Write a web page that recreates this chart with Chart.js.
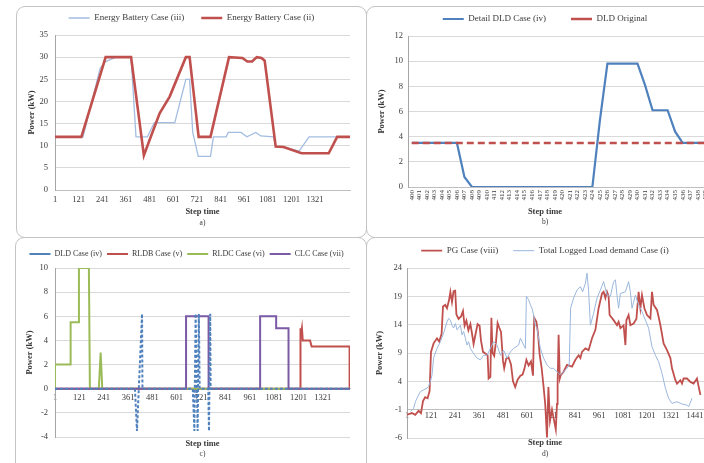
<!DOCTYPE html>
<html lang="en">
<head>
<meta charset="UTF-8">
<title>Power profiles per case</title>
<script src="https://cdn.jsdelivr.net/npm/chart.js"></script>
<style>
    html, body {
        margin: 0;
        padding: 0;
        width: 704px;
        height: 463px;
        overflow: hidden;
        background: #fff;
    }
    .frame {
        position: absolute;
        box-sizing: border-box;
        border: 1px solid #c4c4c4;
        border-radius: 9px;
    }
    canvas {
        position: absolute;
    }
</style>
</head>
<body>
<div class="frame" style="left:16px;top:6px;width:351px;height:232px"></div>
<div class="frame" style="left:366px;top:6px;width:360px;height:232px"></div>
<div class="frame" style="left:15px;top:237px;width:352px;height:240px"></div>
<div class="frame" style="left:366px;top:237px;width:360px;height:240px"></div>

<canvas id="chartA" width="351" height="231" style="left:16px;top:6px"></canvas>
<canvas id="chartB" width="360" height="231" style="left:367px;top:6px"></canvas>
<canvas id="chartC" width="352" height="226" style="left:15px;top:237px"></canvas>
<canvas id="chartD" width="360" height="226" style="left:367px;top:237px"></canvas>

<script>
// a) battery energy
const aXTicks = [1, 121, 241, 361, 481, 601, 721, 841, 961, 1081, 1201, 1321];
const aYTicks = [0, 5, 10, 15, 20, 25, 30, 35];
const aBlueStep  = [1, 143, 230, 258, 310, 387, 412, 470, 505, 609, 665, 684, 700, 728, 790, 805, 870, 880, 945, 975, 1020, 1045, 1110, 1121, 1161, 1240, 1290, 1410, 1433, 1498];
const aBluePower = [12, 12, 27.5, 29, 30, 30, 12, 12, 15.2, 15.2, 25, 25, 13, 7.6, 7.6, 12, 12, 13, 13, 12, 13, 12.2, 12, 9.8, 9.7, 8.8, 12, 12, 12, 12];
const aRedStep  = [1, 135, 258, 387, 452, 481, 532, 583, 665, 684, 730, 790, 884, 952, 977, 1001, 1025, 1049, 1065, 1121, 1161, 1252, 1390, 1433, 1498];
const aRedPower = [12, 12, 30, 30, 7.8, 11.3, 17.3, 21.1, 30, 30, 12, 12, 30, 29.8, 29, 29, 30, 29.8, 29.2, 9.8, 9.7, 8.3, 8.3, 12, 12];

// b) detail of the deferrable load
const bLabels = ['400', '401', '402', '403', '404', '405', '406', '407', '408', '409',
                 '410', '411', '412', '413', '414', '415', '416', '417', '418', '419',
                 '420', '421', '422', '423', '424', '425', '426', '427', '428', '429',
                 '430', '431', '432', '433', '434', '435', '436', '437', '438', '439'];
const bYTicks = [0, 2, 4, 6, 8, 10, 12];
const bDetail = [3.5, 3.5, 3.5, 3.5, 3.5, 3.5, 3.5, 0.8, 0, 0,
                 0, 0, 0, 0, 0, 0, 0, 0, 0, 0,
                 0, 0, 0, 0, 0, 5.3, 9.8, 9.8, 9.8, 9.8,
                 9.8, 8.1, 6.1, 6.1, 6.1, 4.4, 3.5, 3.5, 3.5, 3.5];
const bOriginal = [3.5, 3.5, 3.5, 3.5, 3.5, 3.5, 3.5, 3.5, 3.5, 3.5,
                   3.5, 3.5, 3.5, 3.5, 3.5, 3.5, 3.5, 3.5, 3.5, 3.5,
                   3.5, 3.5, 3.5, 3.5, 3.5, 3.5, 3.5, 3.5, 3.5, 3.5,
                   3.5, 3.5, 3.5, 3.5, 3.5, 3.5, 3.5, 3.5, 3.5, 3.5];

// c) load cases
const cXTicks = [1, 121, 241, 361, 481, 601, 721, 841, 961, 1081, 1201, 1321];
const cYTicks = [-4, -2, 0, 2, 4, 6, 8, 10];
const cDldStep  = [1, 395, 405, 430, 432, 680, 688, 694, 704, 710, 714, 756, 760, 766, 768, 1455];
const cDldPower = [0, 0, -3.5, 6.2, 0, 0, -3.5, 6.2, -3.5, 6.2, 0, 0, -3.5, 6.2, 0, 0];
const cRldbStep  = [1, 1209, 1209, 1213, 1218, 1222, 1258, 1266, 1453, 1453];
const cRldbPower = [0, 0, 5, 4.2, 5, 4, 4, 3.5, 3.5, 0];
const cRldcStep  = [1, 1, 78, 78, 119, 119, 168, 173, 217, 226, 234, 1455];
const cRldcPower = [0, 2, 2, 5.5, 5.5, 10, 10, 0, 0, 3, 0, 0];
const cClcStep  = [1, 647, 647, 758, 758, 1012, 1012, 1091, 1091, 1152, 1152, 1455];
const cClcPower = [0, 0, 6, 6, 0, 0, 6, 6, 5, 5, 0, 0];

// d) grid power vs logged load
const dXTicks = [1, 121, 241, 361, 481, 601, 721, 841, 961, 1081, 1201, 1321, 1441];
const dYTicks = [-6, -1, 4, 9, 14, 19, 24];
const dPgStep = [1, 26, 42, 59, 71, 81, 92, 104, 114, 121,
                 134, 151, 162, 174, 181, 192, 201, 211, 218, 226,
                 234, 242, 248, 259, 272, 281, 289, 298, 308, 318,
                 328, 334, 344, 354, 364, 371, 381, 398, 404, 409,
                 418, 423, 429, 437, 446, 454, 462, 471, 481, 487,
                 497, 509, 521, 531, 542, 554, 568, 579, 588, 598,
                 609, 621, 631, 637, 648, 656, 664, 674, 684, 692,
                 701, 708, 716, 726, 734, 745, 751, 754, 759, 765,
                 770, 784, 801, 826, 843, 859, 868, 876, 893, 909,
                 926, 943, 959, 976, 984, 993, 1001, 1009, 1014, 1034,
                 1051, 1059, 1068, 1084, 1093, 1098, 1109, 1118, 1134, 1148,
                 1159, 1168, 1176, 1188, 1201, 1218, 1226, 1234, 1251, 1259,
                 1268, 1284, 1301, 1318, 1326, 1343, 1351, 1368, 1376, 1384,
                 1401, 1418, 1434, 1451, 1459, 1468];
const dPgPower = [-1.9, -1.6, -1.9, -1.2, -1.6, 0.5, 1.2, 1.0, 2.3, 9.2,
                  10.7, 11.6, 11.0, 12.4, 17.2, 17.5, 16.9, 18.3, 19.8, 18,
                  19.9, 20, 15.8, 15.0, 15.5, 16.4, 13.8, 14.7, 13.0, 14.1,
                  12.0, 10.6, 12.4, 14.1, 13.8, 11.2, 9.2, 8.8, 8.6, 4.5,
                  4.8, 15.2, 9, 8.5, 11, 14.3, 13.5, 12.7, 7.6, 6.3,
                  8.0, 8.2, 7.0, 4.0, 3.0, 4.3, 5.0, 5.2, 6.2, 7.8,
                  6.8, 7.5, 5.0, 15.2, 14.5, 12.5, 8.8, 6.4, 3.0, 0,
                  -5.9, 3.0, -3.0, -1.0, -2.5, -4.5, 0, 3.4, 12.2, 4.5,
                  5.1, 5.7, 6.9, 6.6, 7.8, 8.6, 8.1, 9.2, 9.8, 9.5,
                  11.6, 13.1, 16.9, 19.5, 19.8, 18.7, 19.8, 19, 15.7, 14.8,
                  13.9, 14.5, 13.4, 13.9, 10.4, 14.8, 15.7, 13.9, 14.2, 15.0,
                  19.8, 16.9, 19.2, 16.9, 15.7, 15.1, 19.8, 17.5, 16.6, 15.4,
                  13.9, 10.7, 9.5, 8.1, 6.3, 4.2, 3.6, 4.2, 3.6, 4.5,
                  4.5, 3.9, 3.6, 4.5, 3.1, 1.6];
const dLoadStep = [18, 34, 43, 59, 68, 84, 101, 109, 118, 126,
                   134, 151, 168, 184, 201, 209, 218, 226, 234, 243,
                   251, 268, 276, 284, 293, 301, 309, 318, 334, 351,
                   368, 384, 401, 418, 434, 451, 468, 484, 501, 518,
                   534, 559, 568, 584, 593, 598, 609, 618, 626, 634,
                   643, 651, 659, 668, 684, 701, 718, 734, 768, 801,
                   812, 819, 834, 851, 868, 879, 893, 901, 909, 918,
                   934, 951, 968, 984, 1001, 1018, 1034, 1043, 1051, 1059,
                   1068, 1093, 1109, 1118, 1126, 1143, 1159, 1176, 1193, 1209,
                   1226, 1243, 1259, 1276, 1293, 1309, 1326, 1351, 1376, 1401,
                   1409, 1426];
const dLoadPower = [-1.3, -0.8, 0.4, 1.6, 2.2, 2.5, 2.8, 3.1, 4.0, 5.1,
                    8.1, 9.8, 11, 12.5, 14.5, 15.1, 14.8, 13.9, 13.4, 14.2,
                    13.1, 13.9, 12.2, 12.8, 11.6, 10.4, 11.0, 9.8, 8.9, 8.1,
                    7.8, 8.6, 8.6, 9.8, 11.0, 10.4, 8.6, 9.5, 8.1, 9.2,
                    9.8, 10.4, 11.6, 10.4, 9.8, 19.0, 18.4, 17.5, 16.9, 15.7,
                    13.9, 13.4, 11.6, 9.8, 8.1, 6.9, 6.3, 6.3, 5.1, 6.3,
                    6.9, 16.9, 18.7, 20.1, 20.7, 19.8, 21.3, 23.1, 20, 13.9,
                    16, 18.7, 20.1, 21.6, 19.2, 19, 21.6, 21.9, 19.2, 16.9,
                    19.5, 19.8, 21.6, 19.8, 16.9, 19.2, 17.5, 16.3, 14.8, 13.4,
                    10.1, 8.6, 7.5, 5.4, 2.8, 1.0, 0.1, 0.4, 0, -0.2,
                    -0.5, 1.0];

const serif = "'Liberation Serif', 'Times New Roman', serif";
const ink = '#3a3a3a';
const red = '#c0504d';

function font(size, weight) {
    return { family: serif, size: size, weight: weight || 'normal' };
}

function pts(xs, ys) {
    return xs.map((x, i) => ({ x: x, y: ys[i] }));
}

function fixTicks(values) {
    return function(scale) {
        scale.ticks = values.map(v => ({ value: v }));
    };
}

function linearX(max, ticks, where, height, pad) {
    return {
        type: 'linear',
        min: 1,
        max: max,
        position: where,
        afterBuildTicks: fixTicks(ticks),
        afterFit: s => { s.height = height; },
        grid: { display: false, drawTicks: false },
        border: { color: '#bfbfbf' },
        ticks: { autoSkip: false, maxRotation: 0, font: font(8.5), color: ink, padding: pad, callback: v => String(v) }
    };
}

// p holds the box sizes, in canvas pixels
function panelOptions(p) {
    return {
        responsive: false,
        animation: false,
        events: [],
        layout: { padding: { left: p.padL, right: p.padR, top: p.padT, bottom: p.padB } },
        elements: { point: { radius: 0 }, line: { tension: 0 } },
        plugins: {
            legend: {
                labels: {
                    usePointStyle: true,
                    pointStyle: 'line',
                    pointStyleWidth: 21,
                    padding: p.legendGap,
                    font: font(p.legendSize),
                    color: ink,
                    sort: (a, b) => a.datasetIndex - b.datasetIndex
                }
            },
            subtitle: {
                display: true, position: 'bottom', fullSize: p.titleFull,
                text: 'Step time', color: ink, font: font(8.5, 'bold'),
                padding: { top: p.stepPad, bottom: 0 }
            },
            title: {
                display: true, position: 'bottom', fullSize: p.titleFull,
                text: p.letter, color: ink, font: font(7.5),
                padding: { top: p.letterPad, bottom: 0 }
            },
            tooltip: { enabled: false }
        },
        scales: {
            x: p.x,
            gap: {
                type: 'linear', axis: 'x', position: 'top',
                afterFit: s => { s.height = p.gap; },
                ticks: { display: false },
                grid: { display: false, drawTicks: false },
                border: { display: false }
            },
            y: {
                min: p.yTicks[0],
                max: p.yTicks[p.yTicks.length - 1],
                afterBuildTicks: fixTicks(p.yTicks),
                afterFit: s => { s.width = p.yWidth; },
                grid: { color: '#d9d9d9', drawTicks: false },
                border: { color: '#a6a6a6' },
                ticks: { font: font(8.5), color: ink, padding: p.yPad, callback: v => String(v) },
                title: {
                    display: true, text: 'Power (kW)', color: ink, font: font(8.5, 'bold'),
                    padding: { top: p.yTitlePad, bottom: 0 }
                }
            }
        }
    };
}

new Chart(document.getElementById('chartA'), {
    type: 'line',
    data: {
        datasets: [
            { label: 'Energy Battery Case (iii)', data: pts(aBlueStep, aBluePower), borderColor: '#a3bde0', borderWidth: 1.3, order: 1 },
            { label: 'Energy Battery Case (ii)', data: pts(aRedStep, aRedPower), borderColor: red, borderWidth: 2.6, order: 0 }
        ]
    },
    options: panelOptions({
        padL: 17, padR: 17, padT: -9.5, padB: 9.5, gap: 2.5,
        legendGap: 17, legendSize: 9, titleFull: false,
        stepPad: 3.9, letterPad: 1.4, letter: 'a)',
        yTicks: aYTicks, yWidth: 22, yPad: 7, yTitlePad: -6.1,
        x: linearX(1498, aXTicks, 'bottom', 13, 4.5)
    })
});

new Chart(document.getElementById('chartB'), {
    type: 'line',
    data: {
        labels: bLabels,
        datasets: [
            { label: 'Detail DLD Case (iv)', data: bDetail, borderColor: '#4f81bd', borderWidth: 2.2, order: 1 },
            { label: 'DLD Original', data: bOriginal, borderColor: red, borderWidth: 2.5, borderDash: [7, 4], order: 0 }
        ]
    },
    options: panelOptions({
        padL: 14, padR: 18, padT: -16.5, padB: 10.5, gap: 2.5,
        legendGap: 25, legendSize: 9, titleFull: true,
        stepPad: 2.9, letterPad: 0.4, letter: 'b)',
        yTicks: bYTicks, yWidth: 27, yPad: 5, yTitlePad: -4.1,
        x: {
            type: 'category',
            offset: true,
            afterFit: s => { s.height = 17; },
            grid: { display: false, drawTicks: false },
            border: { color: '#bfbfbf' },
            ticks: { autoSkip: false, minRotation: 90, maxRotation: 90, font: font(7), color: ink, padding: 3 }
        }
    })
});

new Chart(document.getElementById('chartC'), {
    type: 'line',
    data: {
        datasets: [
            { label: 'DLD Case (iv)', data: pts(cDldStep, cDldPower), borderColor: '#4f81bd', borderWidth: 2, borderDash: [3, 2], order: 0 },
            { label: 'RLDB Case (v)', data: pts(cRldbStep, cRldbPower), borderColor: red, borderWidth: 2, order: 3 },
            { label: 'RLDC Case (vi)', data: pts(cRldcStep, cRldcPower), borderColor: '#9bbb59', borderWidth: 2, order: 2 },
            { label: 'CLC Case (vii)', data: pts(cClcStep, cClcPower), borderColor: '#7b5aa6', borderWidth: 2, order: 1 }
        ]
    },
    options: panelOptions({
        padL: 8, padR: 17, padT: 8, padB: 4.5, gap: 0,
        legendGap: 5, legendSize: 8, titleFull: false,
        stepPad: 1.9, letterPad: 0.4, letter: 'c)',
        yTicks: cYTicks, yWidth: 32, yPad: 7, yTitlePad: 1.9,
        x: linearX(1455, cXTicks, { y: 0 }, 0, 3.6)
    })
});

new Chart(document.getElementById('chartD'), {
    type: 'line',
    data: {
        datasets: [
            { label: 'PG Case (viii)', data: pts(dPgStep, dPgPower), borderColor: red, borderWidth: 1.8, order: 1 },
            { label: 'Total Logged Load demand Case (i)', data: pts(dLoadStep, dLoadPower), borderColor: '#9bb7dd', borderWidth: 1, order: 0 }
        ]
    },
    options: panelOptions({
        padL: 14, padR: 18, padT: -5.8, padB: 4.5, gap: 2.8,
        legendGap: 15, legendSize: 9, titleFull: true,
        stepPad: 0, letterPad: 1.3, letter: 'd)',
        yTicks: dYTicks, yWidth: 26, yPad: 5, yTitlePad: -6.1,
        x: linearX(1511, dXTicks, { y: -1 }, 0, 1)
    })
});
</script>
</body>
</html>
